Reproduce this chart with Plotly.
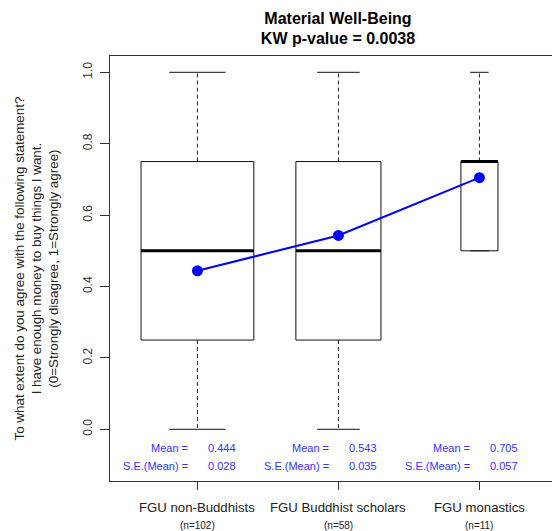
import math
import plotly.graph_objects as go

categories = ["FGU non-Buddhists", "FGU Buddhist scholars", "FGU monastics"]
n_obs = [102, 58, 11]
q1 = [0.25, 0.25, 0.5]
median = [0.5, 0.5, 0.75]
q3 = [0.75, 0.75, 0.75]
whisker_lo = [0.0, 0.0, 0.5]
whisker_hi = [1.0, 1.0, 1.0]
means = [0.444, 0.543, 0.705]
se_means = [0.028, 0.035, 0.057]
y_ticks = [0.0, 0.2, 0.4, 0.6, 0.8, 1.0]

FONT = "Liberation Sans, Arial, sans-serif"
xs = [1, 2, 3]
widths = [0.8 * math.sqrt(k / max(n_obs)) for k in n_obs]

rect_x, rect_y, med_x, med_y = [], [], [], []
wh_x, wh_y, cap_x, cap_y = [], [], [], []
for x, w, a, m, b, lo, hi in zip(xs, widths, q1, median, q3, whisker_lo, whisker_hi):
    x0, x1 = x - w / 2, x + w / 2
    rect_x += [x0, x1, x1, x0, x0, None]
    rect_y += [a, a, b, b, a, None]
    med_x += [x0, x1, None]
    med_y += [m, m, None]
    wh_x += [x, x, None, x, x, None]
    wh_y += [b, hi, None, a, lo, None]
    cap_x += [x - w / 4, x + w / 4, None, x - w / 4, x + w / 4, None]
    cap_y += [hi, hi, None, lo, lo, None]

fig = go.Figure()
fig.add_trace(go.Scatter(x=wh_x, y=wh_y, mode="lines",
                         line=dict(color="#222", width=1, dash="4px,3px"), hoverinfo="skip"))
fig.add_trace(go.Scatter(x=cap_x, y=cap_y, mode="lines",
                         line=dict(color="#111", width=1), hoverinfo="skip"))
fig.add_trace(go.Scatter(x=rect_x, y=rect_y, mode="lines",
                         line=dict(color="#111", width=1), hoverinfo="skip"))
fig.add_trace(go.Scatter(x=med_x, y=med_y, mode="lines",
                         line=dict(color="#000", width=3), hoverinfo="skip"))
fig.add_trace(go.Scatter(x=xs, y=means, mode="lines+markers",
                         line=dict(color="#0000FF", width=2),
                         marker=dict(color="#0000FF", size=11)))

# page has an 8px body margin, so the figure is shifted up/left by 8px
OFF = 8
W, H = 560 - OFF, 531 - OFF
ML, MT = 110 - OFF, 56 - OFF
PW = W - ML

annotations = []
for x, m, s in zip(xs, means, se_means):
    for yv, lab, val in [(-0.052, "Mean =", m), (-0.1035, "S.E.(Mean) =", s)]:
        annotations.append(dict(x=x - 0.05, y=yv, xref="x", yref="y", text=lab,
                                showarrow=False, xanchor="right", yanchor="middle",
                                font=dict(family=FONT, size=11, color="#3333FF")))
        annotations.append(dict(x=x + 0.06, y=yv, xref="x", yref="y", text=f"{val:.3f}",
                                showarrow=False, xanchor="left", yanchor="middle",
                                font=dict(family=FONT, size=11, color="#3333FF")))
for x, c, k in zip(xs, categories, n_obs):
    annotations.append(dict(x=x, y=0, xref="x", yref="paper", text=c, showarrow=False,
                            xanchor="center", yanchor="middle", yshift=-26,
                            font=dict(family=FONT, size=13.2, color="#222")))
    annotations.append(dict(x=x, y=0, xref="x", yref="paper", text=f"(n={k})", showarrow=False,
                            xanchor="center", yanchor="middle", yshift=-44,
                            font=dict(family=FONT, size=10, color="#222")))
annotations.append(dict(
    x=-(110 - 36) / PW, y=0.5, xref="paper", yref="paper", textangle=-90,
    text="To what extent do you agree with the following statement?<br>"
         "I have enough money to buy things I want.<br>"
         "(0=Strongly disagree, 1=Strongly agree)",
    showarrow=False, xanchor="center", yanchor="middle",
    font=dict(family=FONT, size=13.4, color="#222")))

fig.update_layout(
    width=W, height=H,
    margin=dict(l=ML, r=0, t=MT, b=50),
    paper_bgcolor="white", plot_bgcolor="white",
    showlegend=False,
    title=dict(text="<b>Material Well-Being<br>KW p-value = 0.0038</b>",
               x=(338 - 110) / PW, xref="paper", xanchor="center",
               y=1 - (23.5 - OFF) / H, yref="container", yanchor="middle",
               font=dict(family=FONT, size=16, color="#000")),
    annotations=annotations,
    xaxis=dict(range=[0.38, 0.38 + PW / 141], tickvals=xs, ticktext=["", "", ""],
               showticklabels=False, ticks="outside", ticklen=8, tickcolor="#333",
               showline=True, linecolor="#333", linewidth=1, mirror=True,
               showgrid=False, zeroline=False),
    yaxis=dict(range=[-0.1448, 1.0457], tickvals=y_ticks, tickformat=".1f",
               tickangle=-90, ticks="outside", ticklen=9, tickcolor="#333",
               ticklabelstandoff=3,
               tickfont=dict(family=FONT, size=12, color="#333"),
               showline=True, linecolor="#333", linewidth=1,
               showgrid=False, zeroline=False),
)

fig.write_html("out.html")
